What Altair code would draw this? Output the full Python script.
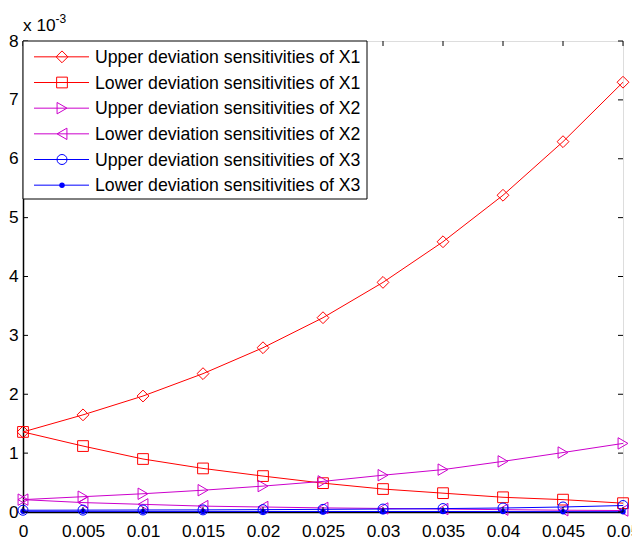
import altair as alt
import pandas as pd

x_vals = [0, 0.005, 0.01, 0.015, 0.02, 0.025, 0.03, 0.035, 0.04, 0.045, 0.05]

upper_x1 = [1.36, 1.65, 1.97, 2.35, 2.79, 3.30, 3.90, 4.59, 5.38, 6.29, 7.30]
lower_x1 = [1.36, 1.12, 0.90, 0.74, 0.61, 0.49, 0.39, 0.32, 0.25, 0.21, 0.15]
upper_x2 = [0.21, 0.26, 0.31, 0.37, 0.44, 0.52, 0.625, 0.72, 0.86, 1.01, 1.165]
lower_x2 = [0.21, 0.16, 0.13, 0.10, 0.085, 0.07, 0.06, 0.05, 0.04, 0.03, 0.025]
upper_x3 = [0.03, 0.032, 0.034, 0.036, 0.04, 0.045, 0.05, 0.058, 0.068, 0.085, 0.11]
lower_x3 = [0.012, 0.011, 0.010, 0.010, 0.009, 0.009, 0.008, 0.008, 0.007, 0.006, 0.005]

labels = [
    "Upper deviation sensitivities of X1",
    "Lower deviation sensitivities of X1",
    "Upper deviation sensitivities of X2",
    "Lower deviation sensitivities of X2",
    "Upper deviation sensitivities of X3",
    "Lower deviation sensitivities of X3",
]
series_values = [upper_x1, lower_x1, upper_x2, lower_x2, upper_x3, lower_x3]
colors = ["#FF0000", "#FF0000", "#CC00CC", "#CC00CC", "#0000FF", "#0000FF"]
shapes = ["diamond", "square", "triangle-right", "triangle-left", "circle", "circle"]
sizes = [140, 115, 130, 130, 100, 30]
filled = [False, False, False, False, False, True]

y_ticks = [0, 1, 2, 3, 4, 5, 6, 7, 8]
x_ticks = [0, 0.005, 0.01, 0.015, 0.02, 0.025, 0.03, 0.035, 0.04, 0.045, 0.05]

W, H = 600, 471
FONT = "Liberation Sans"
TL = 5  # inner tick length

xs = alt.Scale(domain=[0, 0.05], nice=False, zero=False)
ys = alt.Scale(domain=[0, 8], nice=False)

layers = []
for i, lab in enumerate(labels):
    df = pd.DataFrame({"x": x_vals, "y": series_values[i], "s": lab})
    base = alt.Chart(df)
    line = base.mark_line(color=colors[i], strokeWidth=1).encode(
        x=alt.X("x:Q", scale=xs,
                axis=alt.Axis(values=x_ticks, format=".3~f", tickSize=0, labelPadding=10,
                              labelFontSize=17.3, labelFont=FONT, labelColor="black",
                              domainColor="black", domainWidth=1.5, grid=False, title=None,
                              labelFlush=False)),
        y=alt.Y("y:Q", scale=ys,
                axis=alt.Axis(values=y_ticks, format="d", tickSize=0, labelPadding=5,
                              labelFontSize=17.3, labelFont=FONT, labelColor="black",
                              domainColor="black", domainWidth=1.5, grid=False, title=None,
                              labelFlush=False)),
    )
    pts = base.mark_point(
        shape=shapes[i], size=sizes[i], color=colors[i], filled=filled[i],
        strokeWidth=1, opacity=1,
    ).encode(x=alt.X("x:Q", scale=xs), y=alt.Y("y:Q", scale=ys))
    layers += [line, pts]

# inner tick marks (MATLAB style)
ydf = pd.DataFrame({"v": y_ticks})
xdf = pd.DataFrame({"v": x_ticks})
tick_style = dict(color="black", thickness=1, size=TL, opacity=1)
left_ticks = alt.Chart(ydf).mark_tick(orient="horizontal", **tick_style).encode(
    y=alt.Y("v:Q", scale=ys), x=alt.value(TL / 2))
right_ticks = alt.Chart(ydf).mark_tick(orient="horizontal", **tick_style).encode(
    y=alt.Y("v:Q", scale=ys), x=alt.value(W - TL / 2))
bottom_ticks = alt.Chart(xdf).mark_tick(orient="vertical", **tick_style).encode(
    x=alt.X("v:Q", scale=xs), y=alt.value(H - TL / 2))
top_ticks = alt.Chart(xdf).mark_tick(orient="vertical", **tick_style).encode(
    x=alt.X("v:Q", scale=xs), y=alt.value(TL / 2))

# exponent label
exp_df = pd.DataFrame({"t": ["x 10"]})
exp_text = alt.Chart(exp_df).mark_text(
    align="left", baseline="alphabetic", fontSize=17.3, font=FONT, color="black"
).encode(text="t:N", x=alt.value(0), y=alt.value(-10.5))
sup_df = pd.DataFrame({"t": ["-3"]})
sup_text = alt.Chart(sup_df).mark_text(
    align="left", baseline="alphabetic", fontSize=12, font=FONT, color="black"
).encode(text="t:N", x=alt.value(32.5), y=alt.value(-18))

main = alt.layer(*layers, left_ticks, right_ticks, bottom_ticks, top_ticks, exp_text, sup_text)

# custom legend
leg_df = pd.DataFrame({"label": labels, "row": list(range(6))})
ly = alt.Scale(domain=[-0.5, 5.5], range=[3, 157], nice=False, zero=False)
box_df = pd.DataFrame({"a": [0]})
leg_box = alt.Chart(box_df).mark_rect(fill="white", stroke="black", strokeWidth=1).encode(
    x=alt.value(0), x2=alt.value(344), y=alt.value(0), y2=alt.value(158))
leg_layers = [leg_box]
for i, lab in enumerate(labels):
    d = leg_df[leg_df["label"] == lab]
    leg_layers.append(alt.Chart(d).mark_rule(color=colors[i], strokeWidth=1).encode(
        x=alt.value(11), x2=alt.value(66), y=alt.Y("row:Q", scale=ly, axis=None)))
    leg_layers.append(alt.Chart(d).mark_point(
        shape=shapes[i], size=sizes[i], color=colors[i], filled=filled[i],
        strokeWidth=1, opacity=1).encode(
        x=alt.value(39), y=alt.Y("row:Q", scale=ly, axis=None)))
leg_text = alt.Chart(leg_df).mark_text(
    align="left", baseline="middle", fontSize=17.7, font=FONT, color="black", dy=1
).encode(x=alt.value(72), y=alt.Y("row:Q", scale=ly, axis=None), text="label:N")
leg_layers.append(leg_text)
legend = alt.layer(*leg_layers)

chart = alt.layer(main, legend).resolve_scale(y="independent", x="independent").properties(
    width=W, height=H,
    autosize=alt.AutoSizeParams(type="none"),
    padding={"left": 15, "top": 33, "right": 9, "bottom": 28},
).configure_view(stroke="black", strokeWidth=1).configure(background="white")

chart.save("out.html", embed_options={"renderer": "svg", "actions": False})
